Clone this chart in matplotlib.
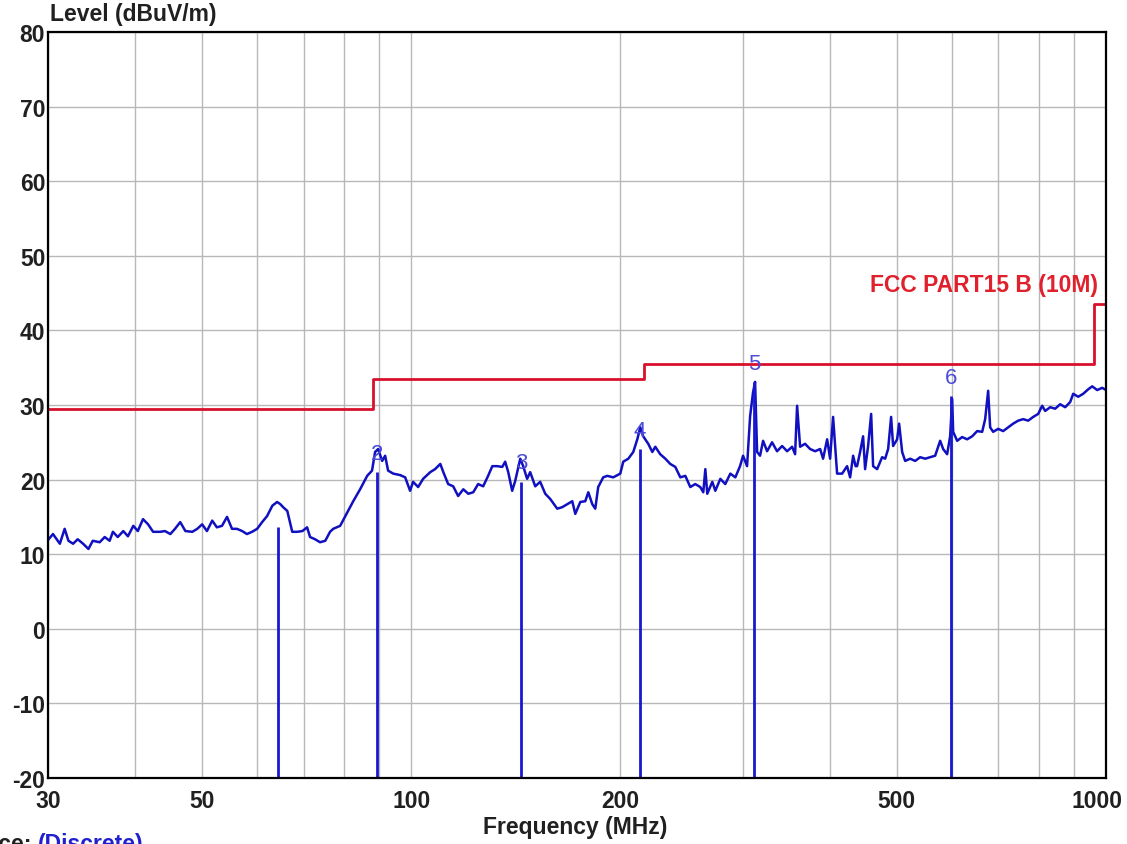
import matplotlib
matplotlib.use("Agg")
import matplotlib.pyplot as plt
from matplotlib.transforms import ScaledTranslation

# swept trace, frequency in MHz / level in dBuV/m
freq_mhz = [
    30.0, 30.5, 31.2, 31.7, 32.1, 32.6, 33.1, 33.7, 34.3, 34.8, 35.6, 36.2, 36.8, 37.2, 37.8,
    38.5, 39.1, 39.8, 40.4, 41.1, 41.8, 42.5, 43.5, 44.2, 45.0, 45.7, 46.5, 47.3, 48.4, 49.2,
    50.0, 50.8, 51.7, 52.5, 53.4, 54.3, 55.2, 56.1, 57.1, 58.0, 59.0, 60.0, 61.0, 62.0, 63.1,
    64.1, 64.8, 65.4, 66.3, 66.9, 67.4, 68.5, 69.7, 70.8, 71.5, 72.7, 73.9, 75.2, 76.4, 77.2,
    79.0, 80.9, 82.5, 84.4, 86.4, 87.8, 88.7, 89.6, 90.8, 91.7, 92.6, 94.2, 96.4, 98.0, 99.6,
    100.6, 102.3, 104.0, 106.5, 108.2, 110.1, 111.2, 113.0, 114.9, 116.8, 118.8, 120.8, 122.8,
    124.8, 126.9, 129.0, 130.8, 132.9, 135.2, 136.5, 137.9, 139.7, 141.1, 143.5, 144.9, 146.8,
    148.3, 150.8, 153.3, 155.9, 158.5, 162.2, 164.9, 167.7, 170.5, 172.2, 175.1, 178.0, 179.8,
    182.2, 184.0, 185.8, 188.9, 191.5, 195.3, 199.9,
    201.9, 205.3, 208.7, 211.5, 213.6, 215.7, 219.3, 222.3, 224.5, 228.2, 232.1, 235.9, 239.9,
    243.9, 248.0, 252.1, 256.3, 260.6, 263.2, 265.0, 266.7, 271.2, 273.9, 278.5, 283.1, 287.9,
    292.7, 297.3, 300.3, 304.3, 307.4, 310.4, 312.5, 314.6, 317.7, 320.9, 325.2, 330.6, 336.1,
    341.8, 347.5, 353.3, 356.8, 359.2, 362.8, 368.8, 375.0, 381.3, 387.7, 391.5, 396.8, 400.7,
    404.7, 410.1, 417.0, 423.9, 428.2,
    432.5, 436.0, 438.2, 442.6, 447.0, 450.0, 454.5, 459.1, 462.1, 468.3, 476.1, 480.9, 485.7,
    490.5, 493.8, 500.4, 503.7, 508.8, 513.9, 522.5, 531.2, 540.1, 549.1, 558.3, 567.6, 577.1,
    582.8, 590.6, 596.5, 600.5, 602.5, 610.5, 620.7, 631.1, 641.7, 652.4, 663.3, 669.9, 676.6,
    681.1, 687.9, 699.4, 711.1, 723.0, 735.1, 747.4, 759.9, 772.6, 785.5, 798.6, 809.2, 817.3,
    831.0, 844.9, 859.0, 873.4, 888.0, 896.9, 911.8, 927.1, 942.6, 955.1, 971.1, 987.3, 1000.0,
]
level_dbuv = [
    11.9, 12.7, 11.4, 13.4, 11.8, 11.4, 12.0, 11.4, 10.7, 11.8, 11.6, 12.3, 11.8, 13.0, 12.3,
    13.1, 12.4, 13.8, 13.1, 14.7, 14.0, 13.0, 13.0, 13.1, 12.7, 13.4, 14.3, 13.1, 13.0, 13.4,
    14.0, 13.1, 14.5, 13.6, 13.8, 15.0, 13.4, 13.4, 13.1, 12.7, 13.0, 13.4, 14.3, 15.1, 16.5,
    17.0, 16.7, 16.3, 15.8, 14.3, 13.0, 13.0, 13.1, 13.6, 12.3, 12.0, 11.6, 11.8, 13.0, 13.4,
    13.8, 15.6, 17.1, 18.7, 20.5, 21.2, 23.7, 24.1, 22.5, 23.2, 21.2, 20.8, 20.6, 20.3, 18.5,
    19.7, 19.0, 20.1, 21.0, 21.4, 22.1, 21.0, 19.4, 19.1, 17.8, 18.7, 18.1, 18.3,
    19.4, 19.1, 20.5, 21.8, 21.8, 21.7, 22.4, 21.0, 18.5, 19.8, 22.8, 21.8, 20.1,
    21.0, 19.1, 19.7, 18.1, 17.4, 16.1, 16.3, 16.7, 17.1, 15.4, 17.0, 17.1, 18.3,
    16.7, 16.1, 19.0, 20.3, 20.5, 20.3, 20.8,
    22.4, 22.8, 23.7, 25.4, 27.0, 25.8, 24.8, 23.7, 24.4, 23.4, 22.8, 22.1, 21.7,
    20.3, 20.5, 19.0, 19.4, 19.0, 18.3, 21.4, 18.1, 19.7, 18.5, 20.1, 19.4, 20.8,
    20.3, 21.8, 23.2, 21.8, 28.5, 31.7, 33.1, 23.7, 23.2, 25.2, 23.8, 25.0, 23.8,
    24.5, 23.8, 24.4, 23.4, 29.9, 24.4, 24.8, 24.1, 23.8, 24.1, 22.8, 25.4, 22.8,
    28.4, 20.8, 20.8, 21.8, 20.3,
    23.2, 21.8, 21.8, 23.7, 25.8, 21.4, 24.5, 28.8, 21.8, 21.4, 23.0, 22.8, 24.1,
    28.4, 24.5, 25.4, 27.5, 23.7, 22.5, 22.8, 22.5, 23.0, 22.8, 23.0, 23.2, 25.2,
    24.1, 23.4, 25.8, 30.8, 26.4, 25.2, 25.7, 25.4, 25.8, 26.5, 26.4, 28.1, 31.9,
    27.0, 26.4, 26.8, 26.5, 27.0, 27.5, 27.9, 28.1, 27.9, 28.4, 28.8, 29.9, 29.2,
    29.7, 29.5, 30.1, 29.7, 30.4, 31.5, 31.1, 31.5, 32.1, 32.5, 32.0, 32.3, 32.0,
]

# FCC Part 15 class B limit at 10 m
limit_freq = [30, 88, 88, 216, 216, 960, 960, 1000]
limit_level = [29.5, 29.5, 33.5, 33.5, 35.5, 35.5, 43.5, 43.5]

# discrete markers
marker_num = [1, 2, 3, 4, 5, 6]
marker_freq = [64.3, 89.3, 143.9, 213.4, 311.4, 598.0]
marker_level = [13.6, 21.0, 19.7, 24.1, 33.1, 31.2]

x_ticks = [30, 50, 100, 200, 500, 1000]
x_minor = [40, 60, 70, 80, 90, 300, 400, 600, 700, 800, 900]
y_ticks = list(range(-20, 81, 10))

plt.rcParams['font.family'] = ['Liberation Sans', 'DejaVu Sans']
plt.rcParams['axes.unicode_minus'] = False

fig = plt.figure(figsize=(11.27, 8.45), dpi=100)
ax = fig.add_axes([0.0426, 0.0781, 0.9388, 0.8829])

ax.set_xscale('log')
ax.set_xlim(30, 1000)
ax.set_ylim(-20, 80)

ax.set_xticks(x_ticks)
ax.set_xticklabels([str(t) for t in x_ticks])
ax.set_xticks(x_minor, minor=True)
ax.set_xticklabels([], minor=True)
ax.set_yticks(y_ticks)
ax.grid(which='both', color='#b8b8b8', lw=1.0)
ax.set_axisbelow(True)
ax.tick_params(which='both', length=0, labelsize=16.5)
ax.tick_params(axis='x', pad=8)
ax.tick_params(axis='y', pad=2)
for lab in ax.get_xticklabels() + ax.get_yticklabels():
    lab.set_fontweight('bold')
    lab.set_color('#202020')
# keep "1000" inside the figure
last = ax.get_xticklabels()[-1]
last.set_transform(last.get_transform() + ScaledTranslation(-0.09, 0, fig.dpi_scale_trans))
for sp in ax.spines.values():
    sp.set_color('black')
    sp.set_linewidth(1.6)

# limit line
ax.plot(limit_freq, limit_level, color='#d8102c', lw=2.0)
ax.text(975, 44.6, 'FCC PART15 B (10M)', color='#e0202c', fontsize=16.5,
        fontweight='bold', ha='right', va='bottom')

# trace
ax.plot(freq_mhz, level_dbuv, color='#1010c0', lw=1.8)

# marker lines + numbers
ax.vlines(marker_freq, -20, marker_level, color='#1818d0', lw=2.0)
for n, f, v in zip(marker_num, marker_freq, marker_level):
    if n == 1:
        continue
    ax.annotate(str(n), (f, v), xytext=(0, 6), textcoords='offset points',
                ha='center', va='bottom', fontsize=16, color='#4c4cd8')

fig.text(50 / 1127, 1 - 14 / 845, 'Level (dBuV/m)', fontsize=16.5, fontweight='bold',
         ha='left', va='center', color='#202020')
fig.text(575 / 1127, 1 - 828 / 845, 'Frequency (MHz)', fontsize=16.5, fontweight='bold',
         ha='center', va='center', color='#202020')
fig.text(32 / 1127, 1 - 833 / 845, 'Trace:', fontsize=16.5, fontweight='bold',
         ha='right', va='top', color='#202020')
fig.text(38 / 1127, 1 - 833 / 845, '(Discrete)', fontsize=16.5, fontweight='bold',
         ha='left', va='top', color='#2020d0')

fig.savefig('out.png', dpi=100, facecolor='white')
